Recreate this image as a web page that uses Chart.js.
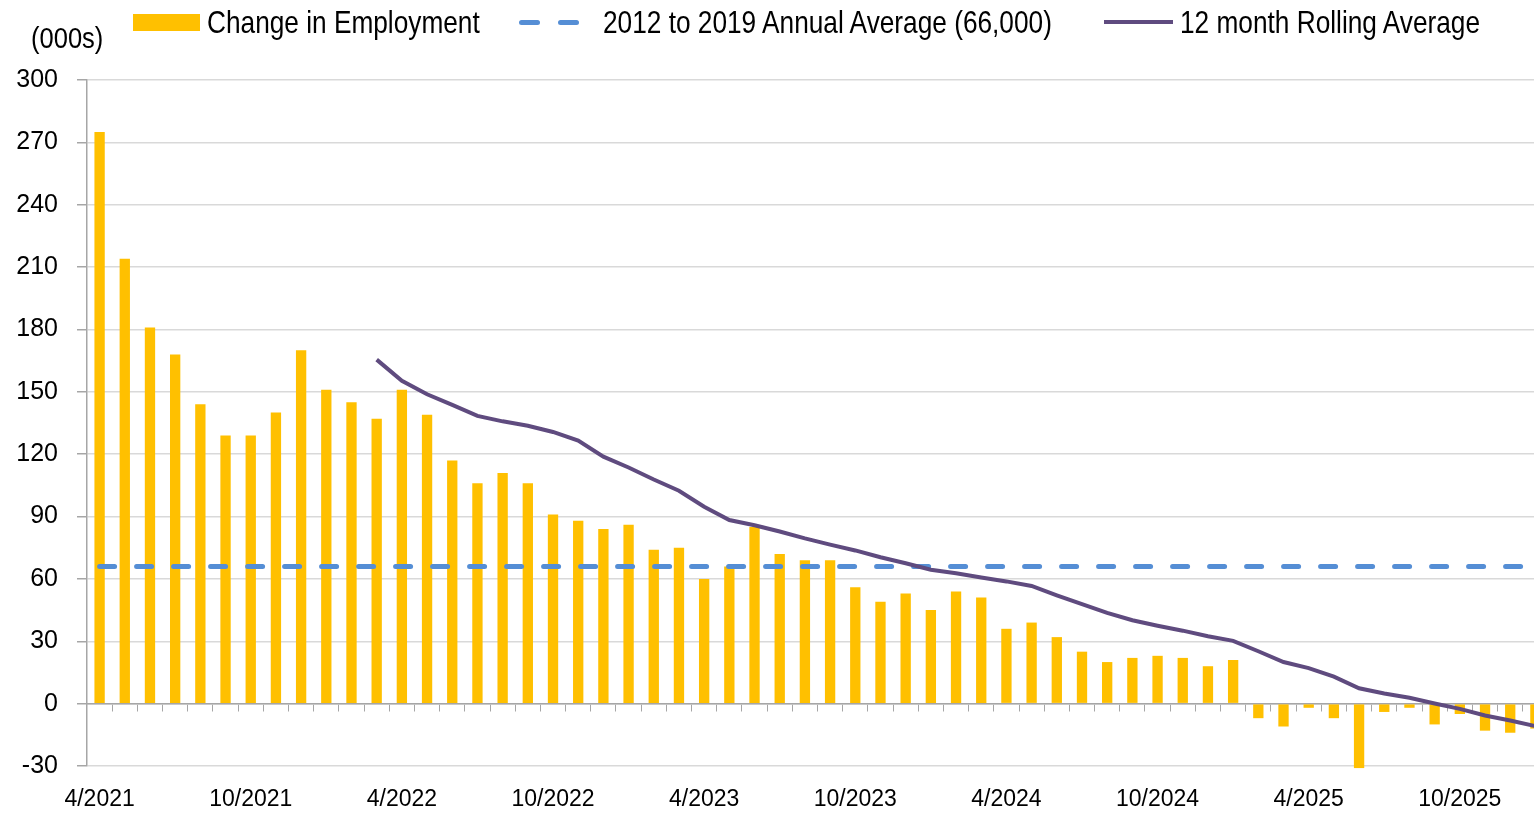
<!DOCTYPE html>
<html>
<head>
<meta charset="utf-8">
<script src="https://cdn.jsdelivr.net/npm/chart.js@4"></script>
<style>
  html, body { margin: 0; padding: 0; background: #fff; overflow: hidden; }
  #wrap { position: relative; width: 1548px; height: 813px; }
  .txt {
    position: absolute; white-space: nowrap; color: #000;
    font-family: 'Liberation Sans', Arial, sans-serif;
    font-size: 32px; line-height: 32px;
    transform: scaleX(0.82); transform-origin: 0 0;
  }
  .sw { position: absolute; }
</style>
</head>
<body>
<div id="wrap">
  <canvas id="employmentChart"></canvas>
  <div class="txt" style="left:31px; top:22px; font-size:29px; transform:scaleX(0.88);">(000s)</div>
  <div class="sw" style="left:133px; top:14px; width:67px; height:17px; background:#FFC000;"></div>
  <div class="txt" style="left:207px; top:6px;">Change in Employment</div>
  <div class="sw" style="left:519px; top:20px; width:21px; height:5px; border-radius:3px; background:#558ED5;"></div>
  <div class="sw" style="left:558px; top:20px; width:21px; height:5px; border-radius:3px; background:#558ED5;"></div>
  <div class="txt" style="left:603px; top:6px;">2012 to 2019 Annual Average (66,000)</div>
  <div class="sw" style="left:1104px; top:20px; width:69px; height:4px; background:#5F4B7F;"></div>
  <div class="txt" style="left:1180px; top:6px;">12 month Rolling Average</div>
</div>
<script>
  const months = [
    '4/2021', '5/2021', '6/2021', '7/2021', '8/2021', '9/2021', '10/2021', '11/2021', '12/2021',
    '1/2022', '2/2022', '3/2022', '4/2022', '5/2022', '6/2022', '7/2022', '8/2022', '9/2022',
    '10/2022', '11/2022', '12/2022', '1/2023', '2/2023', '3/2023', '4/2023', '5/2023', '6/2023',
    '7/2023', '8/2023', '9/2023', '10/2023', '11/2023', '12/2023', '1/2024', '2/2024', '3/2024',
    '4/2024', '5/2024', '6/2024', '7/2024', '8/2024', '9/2024', '10/2024', '11/2024', '12/2024',
    '1/2025', '2/2025', '3/2025', '4/2025', '5/2025', '6/2025', '7/2025', '8/2025', '9/2025',
    '10/2025', '11/2025', '12/2025', '1/2026'
  ];

  // monthly change in employment (000s)
  const employmentChange = [
    275, 214, 181, 168, 144, 129, 129, 140, 170, 151, 145, 137,
    151, 139, 117, 106, 111, 106, 91, 88, 84, 86, 74, 75,
    60, 66, 85, 72, 69, 69, 56, 49, 53, 45, 54, 51,
    36, 39, 32, 25, 20, 22, 23, 22, 18, 21, -7, -11,
    -2, -7, -31, -4, -2, -10, -5, -13, -14, -12
  ];

  // 12 month rolling average, first point at 3/2022
  const rollingAverage = [
    null, null, null, null, null, null, null, null, null, null, null,
    165.5, 155.3, 148.8, 143.7, 138.4, 135.8, 133.7, 130.7, 126.5, 118.8, 113.6, 107.8,
    102.4, 94.7, 88.3, 85.8, 82.8, 79.5, 76.5, 73.7, 70.4, 67.5, 64.4, 62.7,
    60.7, 58.8, 56.6, 52.1, 47.9, 43.7, 40.1, 37.5, 35.1, 32.4, 30.2, 25.2,
    20.0, 17.1, 13.0, 7.4, 4.9, 2.8, 0.1, -2.5, -5.7, -8.1, -10.8
  ];

  const annualAverage = 66; // 2012 to 2019
  const tickMonths = ['4', '10'];
  const yTicks = { min: -30, max: 300, step: 30 };

  const fontFamily = "'Liberation Sans', Arial, sans-serif";

  const ctx = document.getElementById('employmentChart').getContext('2d');
  const chart = new Chart(ctx, {
    data: {
      labels: months,
      datasets: [
        {
          type: 'line',
          label: '12 month Rolling Average',
          data: rollingAverage,
          borderColor: '#5F4B7F',
          borderWidth: 4,
          pointRadius: 0,
          tension: 0,
          order: 0,
        },
        {
          type: 'line',
          label: '2012 to 2019 Annual Average (66,000)',
          data: months.map(() => annualAverage),
          borderColor: '#558ED5',
          borderWidth: 5,
          borderDash: [15, 22],
          borderCapStyle: 'round',
          pointRadius: 0,
          order: 1,
        },
        {
          type: 'bar',
          label: 'Change in Employment',
          data: employmentChange,
          backgroundColor: '#FFC000',
          barPercentage: 0.41,
          categoryPercentage: 1,
          clip: 6,
          order: 2,
        },
      ]
    },
    options: {
      responsive: true,
      maintainAspectRatio: false,
      animation: false,
      layout: { padding: { top: 80, right: 0, bottom: 0, left: 0 } },
      plugins: {
        legend: { display: false },
        tooltip: { enabled: false },
      },
      scales: {
        x: {
          type: 'category',
          offset: true,
          grid: { display: false },
          border: { display: false },
          ticks: {
            autoSkip: false,
            maxRotation: 0,
            padding: 12,
            color: '#000',
            font: { family: fontFamily, size: 23 },
            callback: function (value, index) {
              const label = months[index];
              return tickMonths.includes(label.split('/')[0]) ? label : '';
            },
          },
          afterFit: (scale) => { scale.height = 47; },
        },
        zeroAxis: {
          type: 'category',
          axis: 'x',
          position: { y: 0 },
          offset: true,
          grid: {
            offset: true,
            drawOnChartArea: false,
            drawTicks: true,
            tickLength: 7,
            color: '#A6A6A6',
          },
          border: { color: '#A6A6A6', width: 1.5 },
          ticks: { display: false },
        },
        y: {
          min: yTicks.min,
          max: yTicks.max,
          grid: {
            color: '#D9D9D9',
            lineWidth: 1.5,
            tickLength: 10,
            tickColor: '#A6A6A6',
          },
          border: { color: '#A6A6A6', width: 1.5 },
          ticks: {
            stepSize: yTicks.step,
            padding: 19,
            color: '#000',
            font: { family: fontFamily, size: 25 },
          },
          afterFit: (scale) => { scale.width = 87; },
        },
      },
    },
  });
</script>
</body>
</html>
